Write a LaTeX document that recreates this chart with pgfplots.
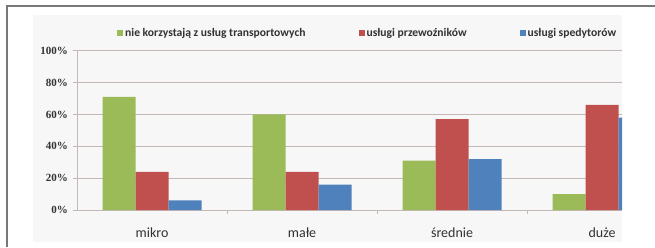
\documentclass[border=0pt]{standalone}
\usepackage{pgfplots}
\pgfplotsset{compat=1.18}
\usepackage{fontspec}
\setmainfont{Carlito}
\newfontfamily\serifb{Liberation Serif}
\definecolor{cgreen}{RGB}{155,187,89}
\definecolor{cred}{RGB}{192,80,77}
\definecolor{cblue}{RGB}{79,129,189}
\definecolor{gridc}{RGB}{196,184,180}
\definecolor{framec}{RGB}{120,120,120}
\definecolor{txt}{RGB}{50,50,50}
\begin{document}
\begin{tikzpicture}[x=1pt,y=1pt]
\useasboundingbox (0,0) rectangle (655,247);
\fill[black!3] (33,5) rectangle (622,232);
\draw[framec, line width=2pt] (7,0) -- (7,241) -- (655,241);
\begin{axis}[
  at={(77pt,37pt)}, anchor=south west,
  scale only axis, width=545pt, height=159.3pt,
  ybar=0pt, bar width=33pt,
  xmin=-0.5, xmax=3.133, ymin=0, ymax=100,
  axis lines=left, axis line style={-, draw=gridc, line width=0.8pt},
  clip=true,
  xtick={0,1,2,3}, xticklabels={mikro,małe,średnie,duże},
  major x tick style={draw=none},
  minor xtick={0.5,1.5,2.5},
  minor x tick style={draw=gridc, line width=0.8pt},
  minor tick length=4pt,
  tick align=outside,
  ytick={0,20,40,60,80,100},
  yticklabel={\pgfmathprintnumber{\tick}\%},
  major y tick style={draw=gridc, line width=0.8pt},
  major tick length=4pt,
  ymajorgrids, grid style={draw=gridc, line width=0.8pt},
  /pgf/number format/assume math mode=true,
  xticklabel style={font=\fontsize{14}{14}\selectfont, text=txt, anchor=base, yshift=-23pt},
  yticklabel style={font=\serifb\bfseries\fontsize{11}{11}\selectfont, text=txt, anchor=east, inner sep=0pt, xshift=-5pt},
  legend columns=3,
  legend style={at={(0.0734,1.111)}, anchor=west, draw=none, fill=none, inner sep=0pt,
    font=\bfseries\fontsize{11.6}{11.6}\selectfont, text=txt,
    /tikz/every even column/.append style={column sep=51pt}},
  legend image code/.code={\fill[#1] (0pt,-3pt) rectangle (6pt,3pt);},
]
\addplot[fill=cgreen, draw=none] coordinates {(0,71) (1,60) (2,31) (3,10)};
\addplot[fill=cred, draw=none] coordinates {(0,24) (1,24) (2,57) (3,66)};
\addplot[fill=cblue, draw=none] coordinates {(0,6) (1,16) (2,32) (3,58)};
\legend{nie korzystają z usług transportowych, usługi przewoźników, usługi spedytorów}
\end{axis}
\end{tikzpicture}
\end{document}
